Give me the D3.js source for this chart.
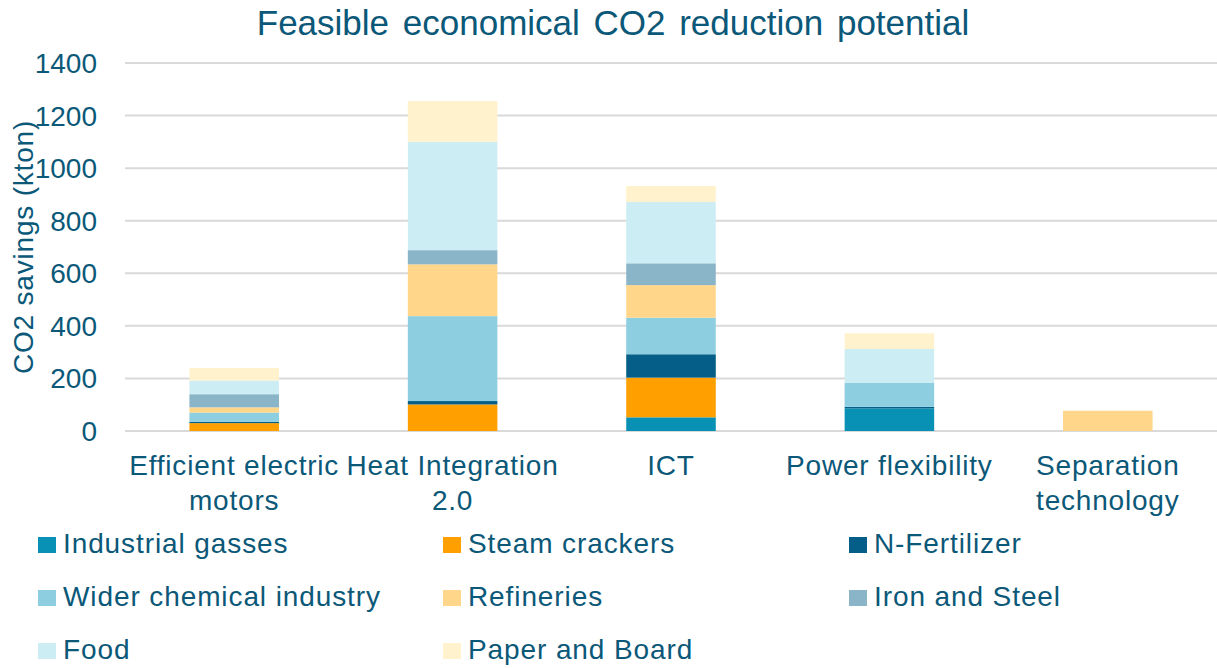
<!DOCTYPE html>
<html>
<head>
<meta charset="utf-8">
<script src="https://cdn.jsdelivr.net/npm/d3@7"></script>
<style>
  body{margin:0;background:#fff;}
  text{font-family:"Liberation Sans",Arial,sans-serif;fill:#0b5878;}
</style>
</head>
<body>
<svg id="chart" width="1217" height="668"></svg>
<script>
// data
const categories = ['Efficient electric motors','Heat Integration 2.0','ICT','Power flexibility','Separation technology'];
const catLines = [['Efficient electric','motors'],['Heat Integration','2.0'],['ICT'],['Power flexibility'],['Separation','technology']];
const sectors = ['Industrial gasses','Steam crackers','N-Fertilizer','Wider chemical industry','Refineries','Iron and Steel','Food','Paper and Board'];
const industrialGasses = [0,0,52,86,0];
const steamCrackers    = [30,101,151,0,0];
const nFertilizer      = [5,13,89,6,0];
const widerChemical    = [35,323,139,92,0];
const refineries       = [20,197,124,0,77];
const ironSteel        = [50,54,83,0,0];
const food             = [52,412,233,128,0];
const paperBoard       = [48,155,61,60,0];
const yTicks = [0,200,400,600,800,1000,1200,1400];
const colors = ['#0891b5','#ffa000','#055e87','#8dcfe0','#ffd68a','#8ab5c9','#cdedf5','#fff2cc'];

const series = [industrialGasses,steamCrackers,nFertilizer,widerChemical,refineries,ironSteel,food,paperBoard];
const rows = categories.map((c,i)=>{
  const r = {cat:c};
  sectors.forEach((s,j)=>r[s]=series[j][i]);
  return r;
});

const svg = d3.select('#chart');
const x = d3.scaleBand().domain(categories).range([125,1217]).paddingInner(0.59).paddingOuter(0.295);
const y = d3.scaleLinear().domain([0,1400]).range([431,63]);

// grid
svg.append('g').selectAll('line').data(yTicks).join('line')
  .attr('x1',125).attr('x2',1217)
  .attr('y1',d=>y(d)).attr('y2',d=>y(d))
  .attr('stroke','#d9d9d9').attr('stroke-width',2);

// y tick labels
svg.append('g').selectAll('text').data(yTicks).join('text')
  .attr('x',97).attr('y',d=>y(d)+10)
  .attr('text-anchor','end').attr('font-size',28)
  .text(d=>d);

// stacked bars
const stack = d3.stack().keys(sectors)(rows);
svg.append('g').selectAll('g').data(stack).join('g')
  .attr('fill',(d,i)=>colors[i])
  .selectAll('rect').data(d=>d).join('rect')
  .attr('x',d=>x(d.data.cat))
  .attr('width',x.bandwidth())
  .attr('y',d=>y(d[1]))
  .attr('height',d=>Math.max(0,y(d[0])-y(d[1])));

// category labels
const cl = svg.append('g').selectAll('text').data(categories).join('text')
  .attr('x',d=>x(d)+x.bandwidth()/2).attr('y',475)
  .attr('text-anchor','middle').attr('font-size',28).attr('letter-spacing',0.8);
cl.selectAll('tspan').data((d,i)=>catLines[i]).join('tspan')
  .attr('x',function(){return d3.select(this.parentNode).attr('x');})
  .attr('dy',(d,i)=>i?35:0)
  .text(d=>d);

// title
svg.append('text').attr('x',613).attr('y',35).attr('text-anchor','middle')
  .attr('font-size',35).attr('word-spacing',4).text('Feasible economical CO2 reduction potential');

// y axis title
svg.append('text').attr('transform','translate(33,247) rotate(-90)')
  .attr('text-anchor','middle').attr('font-size',28).attr('letter-spacing',0.8)
  .text('CO2 savings (kton)');

// legend
const lx = [38,443,849], ly = [553,606,659];
const leg = svg.append('g').selectAll('g').data(sectors).join('g')
  .attr('transform',(d,i)=>`translate(${lx[i%3]},${ly[Math.floor(i/3)]})`);
leg.append('rect').attr('x',0).attr('y',-16).attr('width',18).attr('height',16)
  .attr('fill',(d,i)=>colors[i]);
leg.append('text').attr('x',25).attr('y',0).attr('font-size',28).attr('letter-spacing',0.9).text(d=>d);
</script>
</body>
</html>
